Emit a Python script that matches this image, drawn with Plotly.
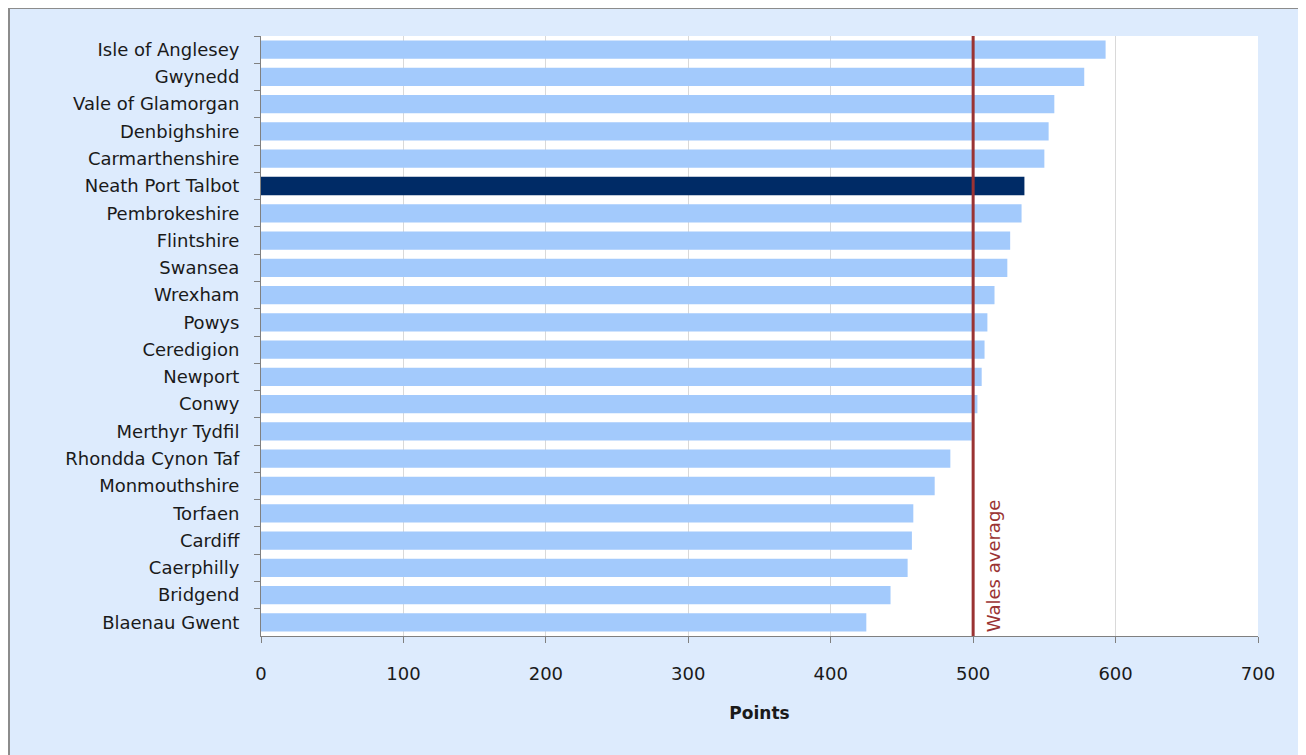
import plotly.graph_objects as go

areas = ["Isle of Anglesey", "Gwynedd", "Vale of Glamorgan", "Denbighshire",
         "Carmarthenshire", "Neath Port Talbot", "Pembrokeshire", "Flintshire",
         "Swansea", "Wrexham", "Powys", "Ceredigion", "Newport", "Conwy",
         "Merthyr Tydfil", "Rhondda Cynon Taf", "Monmouthshire", "Torfaen",
         "Cardiff", "Caerphilly", "Bridgend", "Blaenau Gwent"]
points = [593, 578, 557, 553, 550, 536, 534, 526, 524, 515, 510, 508, 506, 503,
          499, 484, 473, 458, 457, 454, 442, 425]
highlight = "Neath Port Talbot"
wales_average = 500
x_ticks = [0, 100, 200, 300, 400, 500, 600, 700]

colors = ["#002B66" if a == highlight else "#A3CAFC" for a in areas]
FONT = "DejaVu Sans, Verdana, sans-serif"

fig = go.Figure()
fig.add_trace(go.Bar(
    y=areas, x=points, orientation="h",
    marker=dict(color=colors, line=dict(width=0)),
    showlegend=False, hoverinfo="x+y",
))

fig.add_shape(type="line", xref="x", yref="paper", x0=wales_average, x1=wales_average,
              y0=0, y1=1, line=dict(color="#9A3333", width=3), layer="above")
fig.add_annotation(x=wales_average, xref="x", y=0, yref="paper", text="Wales average",
                   textangle=-90, showarrow=False, xanchor="left", yanchor="bottom",
                   xshift=8, yshift=2,
                   font=dict(family=FONT, size=18, color="#9A3333"))

# outer chart border
fig.add_shape(type="rect", xref="paper", yref="paper",
              x0=(1 - 253) / 997, x1=1.2, y0=-0.3, y1=1 + 28 / 600,
              line=dict(color="#8C8C8C", width=2), fillcolor="rgba(0,0,0,0)", layer="below")

fig.update_layout(
    width=1298, height=747,
    margin=dict(l=253, r=48, t=28, b=119),
    paper_bgcolor="#DDEBFD",
    plot_bgcolor="#FFFFFF",
    bargap=0.33,
    font=dict(family=FONT, size=18, color="#1A1A1A"),
    xaxis=dict(
        range=[0, 700], tickvals=x_ticks, ticks="outside", ticklen=6, tickcolor="#808080",
        showgrid=True, gridcolor="#D9D9D9", gridwidth=1, zeroline=False,
        showline=True, linecolor="#808080", linewidth=1, mirror=False,
        tickfont=dict(size=18), ticklabelstandoff=15,
        title=dict(text="<b>Points</b>", font=dict(size=17), standoff=24),
    ),
    yaxis=dict(
        autorange="reversed", ticks="outside", ticklen=6, tickcolor="#808080",
        tickson="boundaries", showline=True, linecolor="#808080", linewidth=1,
        showgrid=False, tickfont=dict(size=18), ticklabelstandoff=17,
    ),
)

fig.write_html("out.html")
